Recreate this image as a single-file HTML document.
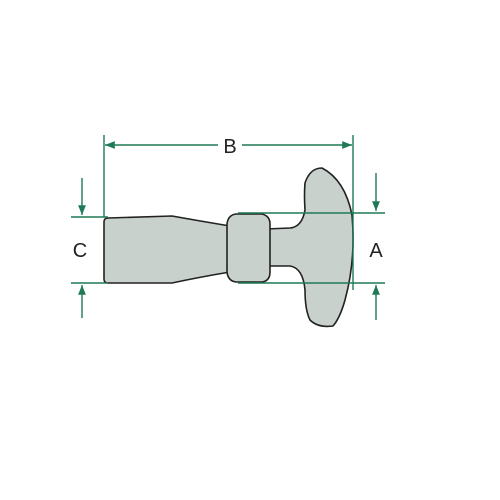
<!DOCTYPE html>
<html><head><meta charset="utf-8"><style>
html,body{margin:0;padding:0;background:#fff;}
svg{display:block;}
text{font-family:"Liberation Sans",sans-serif;font-size:20px;fill:#222;}
</style></head><body>
<svg width="500" height="500" viewBox="0 0 500 500">
<defs>
<marker id="ah" viewBox="0 0 10 10" refX="10" refY="5" markerWidth="7" markerHeight="7" orient="auto-start-reverse"><path d="M0,1 L10,5 L0,9 z" fill="#1f7a57"/></marker>
</defs>
<g fill="#c9d1cc" stroke="#222" stroke-width="1.6" stroke-linejoin="round">
<path d="M108,218 L172,216 Q200,221 230,226 L230,272 Q200,277 172,283 L108,283 Q104,283 104,279 L104,222 Q104,218 108,218 Z"/>
<path d="M266,229 L290,228 Q302,227 305,210 Q304,195 305,183 Q310,168 322,168 Q345,180 352,215 Q356,260 345,300 Q340,318 333,326 Q318,328 310,320 Q305,310 305,290 Q303,268 290,266 L266,266 Z"/>
<path d="M236,214 L262,214 Q270,216 270,224 L270,272 Q270,281 262,282 L236,282 Q228,281 227,272 L227,224 Q228,215 236,214 Z"/>
</g>
<g stroke="#1f7a57" stroke-width="1.4" fill="none">
<line x1="104" y1="135" x2="104" y2="217"/>
<line x1="353" y1="135" x2="353" y2="290"/>
<line x1="105" y1="145" x2="218" y2="145" marker-start="url(#ah)"/>
<line x1="242" y1="145" x2="352" y2="145" marker-end="url(#ah)"/>
<line x1="71" y1="217" x2="108" y2="217"/>
<line x1="71" y1="283" x2="108" y2="283"/>
<line x1="238" y1="213" x2="385" y2="213"/>
<line x1="238" y1="283" x2="385" y2="283"/>
<line x1="82" y1="178" x2="82" y2="215" marker-end="url(#ah)"/>
<line x1="82" y1="318" x2="82" y2="285" marker-end="url(#ah)"/>
<line x1="376" y1="173" x2="376" y2="211" marker-end="url(#ah)"/>
<line x1="376" y1="320" x2="376" y2="285" marker-end="url(#ah)"/>
</g>
<text x="230" y="153" text-anchor="middle">B</text>
<text x="80" y="257" text-anchor="middle">C</text>
<text x="376" y="257" text-anchor="middle">A</text>
</svg>
</body></html>
